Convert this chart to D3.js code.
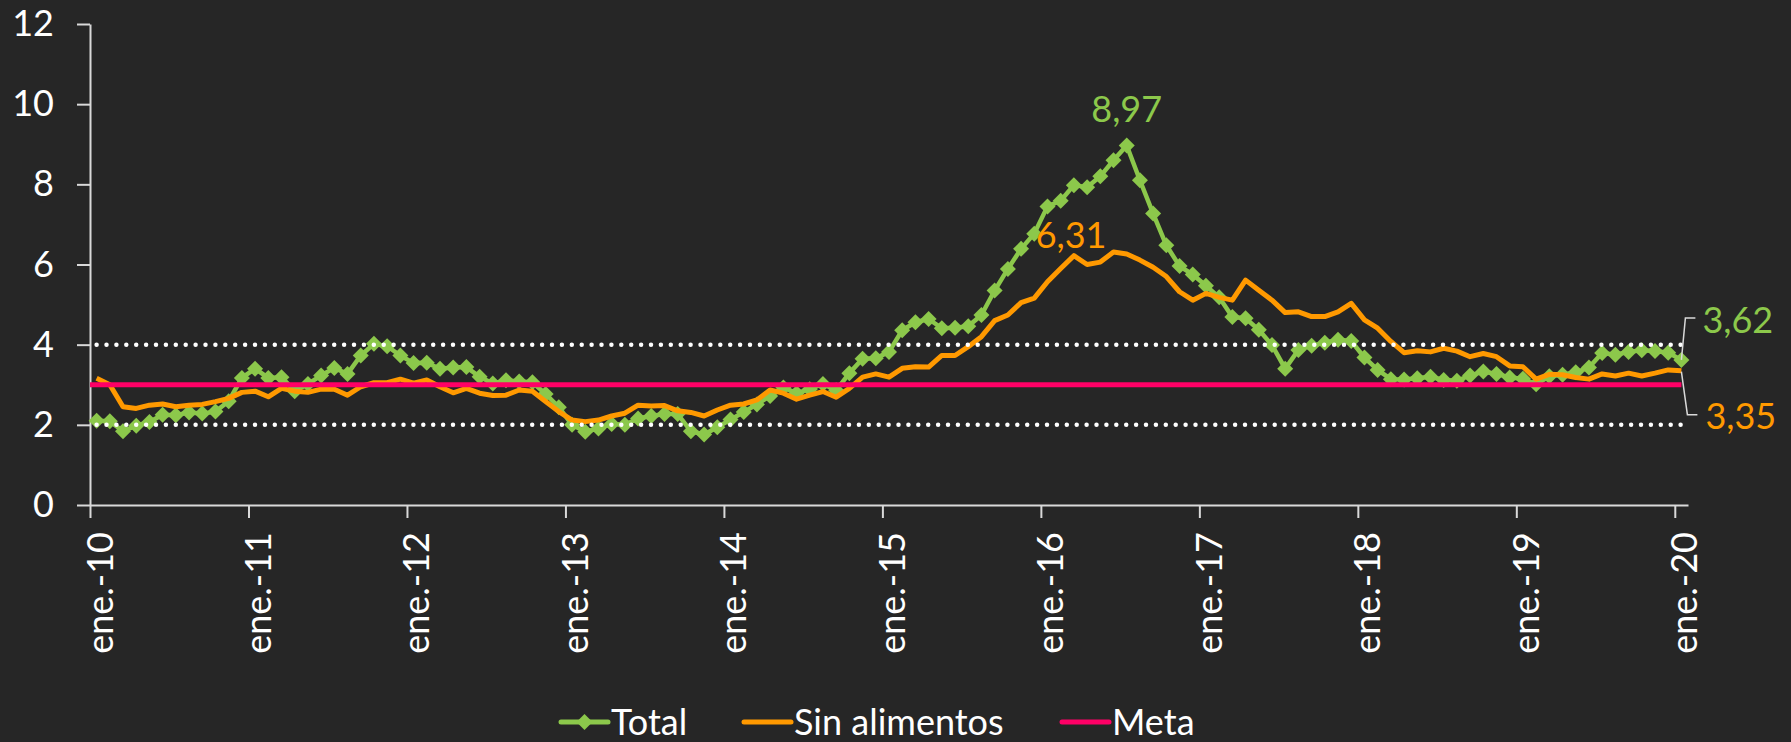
<!DOCTYPE html>
<html><head><meta charset="utf-8">
<script src="https://cdn.jsdelivr.net/npm/d3@7"></script>
<style>
html,body{margin:0;padding:0;background:#262626;}
svg{display:block;}
text{font-family:Lato,"Open Sans",sans-serif;}
</style></head><body>
<svg id="chart" width="1791" height="742"></svg>
<script>
// ---------- DATA ----------
const monthNames = ["ene.","feb.","mar.","abr.","may.","jun.","jul.","ago.","sep.","oct.","nov.","dic."];
const years = ["10","11","12","13","14","15","16","17","18","19","20"];
const tickLabels = ["ene.-10","ene.-11","ene.-12","ene.-13","ene.-14","ene.-15","ene.-16","ene.-17","ene.-18","ene.-19","ene.-20"];
const yTicks = [0,2,4,6,8,10,12];

const totalValues = [
  2.10,2.09,1.84,1.98,2.07,2.25,2.24,2.31,2.28,2.33,2.59,3.17,
  3.40,3.17,3.19,2.84,3.02,3.23,3.42,3.27,3.73,4.02,3.96,3.73,
  3.54,3.55,3.40,3.43,3.44,3.20,3.03,3.11,3.08,3.06,2.77,2.44,
  2.00,1.83,1.91,2.02,2.00,2.16,2.22,2.27,2.27,1.84,1.76,1.94,
  2.13,2.32,2.51,2.72,2.93,2.79,2.89,3.02,2.86,3.29,3.65,3.66,
  3.82,4.36,4.56,4.64,4.41,4.42,4.46,4.74,5.35,5.89,6.39,6.77,
  7.45,7.59,7.98,7.93,8.20,8.60,8.97,8.10,7.27,6.48,5.96,5.75,
  5.47,5.18,4.69,4.66,4.37,3.99,3.40,3.87,3.97,4.05,4.12,4.09,
  3.68,3.37,3.14,3.13,3.16,3.20,3.12,3.10,3.23,3.33,3.27,3.18,
  3.15,3.01,3.21,3.25,3.31,3.43,3.79,3.75,3.82,3.86,3.84,3.80,
  3.62
];
const sinAlimentosValues = [
  3.16,3.00,2.45,2.41,2.49,2.52,2.45,2.49,2.51,2.58,2.66,2.81,
  2.84,2.70,2.91,2.84,2.81,2.89,2.89,2.74,2.95,3.05,3.05,3.14,
  3.04,3.12,2.95,2.80,2.91,2.79,2.73,2.74,2.87,2.84,2.58,2.33,
  2.12,2.08,2.12,2.22,2.29,2.49,2.47,2.48,2.35,2.31,2.22,2.37,
  2.49,2.52,2.62,2.87,2.79,2.64,2.74,2.83,2.69,2.91,3.19,3.27,
  3.19,3.41,3.45,3.44,3.73,3.73,3.95,4.20,4.60,4.74,5.05,5.16,
  5.57,5.90,6.22,6.00,6.06,6.31,6.26,6.11,5.93,5.70,5.32,5.11,
  5.28,5.18,5.11,5.61,5.36,5.11,4.80,4.82,4.70,4.70,4.82,5.03,
  4.62,4.41,4.08,3.80,3.85,3.82,3.91,3.84,3.70,3.78,3.70,3.47,
  3.45,3.14,3.26,3.25,3.18,3.14,3.27,3.22,3.29,3.22,3.29,3.37,
  3.35
];
const metaValue = 3;
const rangeUpper = 4;
const rangeLower = 2;
const seriesNames = ["Total","Sin alimentos","Meta"];

// categories: monthly, ene.-10 ... ene.-20
const categories = [];
years.forEach(yy => monthNames.forEach(m => categories.push(m + "-" + yy)));
categories.length = totalValues.length;

// ---------- STYLE ----------
const GREEN = "#8CC84B", ORANGE = "#FF9900", PINK = "#FF0066", AXIS = "#D9D9D9";
const FONT = 36;

const svg = d3.select("#chart");
svg.append("rect").attr("width",1791).attr("height",742).attr("fill","#262626");

const x = d3.scaleLinear().domain([0, categories.length]).range([90, 1688]);
const cx = i => x(i + 0.5);
const y = d3.scaleLinear().domain([0, 12]).range([505, 24]);

// Y axis
const gy = svg.append("g").attr("transform","translate(90,0)")
  .call(d3.axisLeft(y).tickValues(yTicks).tickSize(13).tickSizeOuter(0).tickPadding(23));
gy.select(".domain").attr("stroke", AXIS).attr("stroke-width", 2);
gy.selectAll(".tick line").attr("stroke", AXIS).attr("stroke-width", 2);
gy.selectAll(".tick text").attr("fill","#fff").attr("font-size",FONT).attr("font-family","Lato");

// X axis
const janIdx = tickLabels.map((_, k) => k * 12);
const gx = svg.append("g").attr("transform","translate(0,505)")
  .call(d3.axisBottom(x).tickValues(janIdx).tickFormat((d, k) => tickLabels[k]).tickSize(13).tickSizeOuter(0));
gx.select(".domain").attr("stroke", AXIS).attr("stroke-width", 2);
gx.selectAll(".tick line").attr("stroke", AXIS).attr("stroke-width", 2);
gx.selectAll(".tick text")
  .attr("fill","#fff").attr("font-size",FONT).attr("font-family","Lato")
  .attr("x",0).attr("y",0).attr("dy",0)
  .attr("text-anchor","end")
  .attr("transform","translate(22,27) rotate(-90)");

const line = d3.line().x((d, i) => cx(i)).y(d => y(d));

// Total
svg.append("path").datum(totalValues).attr("d", line)
  .attr("fill","none").attr("stroke",GREEN).attr("stroke-width",4.5).attr("stroke-linejoin","round");
const diamond = "M0,-8L8,0L0,8L-8,0Z";
svg.append("g").selectAll("path").data(totalValues).join("path")
  .attr("d", diamond).attr("fill", GREEN)
  .attr("transform", (d, i) => `translate(${cx(i)},${y(d)})`);

// Sin alimentos
svg.append("path").datum(sinAlimentosValues).attr("d", line)
  .attr("fill","none").attr("stroke",ORANGE).attr("stroke-width",5).attr("stroke-linejoin","round");

// Meta
const n = categories.length;
svg.append("line").attr("x1", x(0)).attr("x2", cx(n - 1))
  .attr("y1", y(metaValue)).attr("y2", y(metaValue))
  .attr("stroke", PINK).attr("stroke-width", 5);

// Range dotted lines
[rangeUpper, rangeLower].forEach(v => {
  svg.append("line").attr("x1", cx(0)).attr("x2", cx(n - 1))
    .attr("y1", y(v)).attr("y2", y(v))
    .attr("stroke", "#fff").attr("stroke-width", 4.5)
    .attr("stroke-linecap","round").attr("stroke-dasharray","0,9.9");
});

// Annotations
const peakT = totalValues.indexOf(d3.max(totalValues));
svg.append("text").attr("x", cx(peakT)).attr("y", y(totalValues[peakT]) - 23)
  .attr("text-anchor","middle").attr("fill",GREEN).attr("font-size",FONT)
  .text(d3.format(".2f")(totalValues[peakT]).replace(".", ","));

const peakS = sinAlimentosValues.indexOf(d3.max(sinAlimentosValues));
svg.append("text").attr("x", cx(peakS) - 7).attr("y", y(sinAlimentosValues[peakS]) - 4)
  .attr("text-anchor","end").attr("fill",ORANGE).attr("font-size",FONT)
  .text(d3.format(".2f")(sinAlimentosValues[peakS]).replace(".", ","));

const lastT = totalValues[n - 1], lastS = sinAlimentosValues[n - 1];
const lx = cx(n - 1);
svg.append("path")
  .attr("d", `M${lx},${y(lastT)}L${lx + 4},${y(lastT) - 42}L${lx + 14},${y(lastT) - 42}`)
  .attr("fill","none").attr("stroke",AXIS).attr("stroke-width",1.5);
svg.append("text").attr("x", lx + 21).attr("y", y(lastT) - 27)
  .attr("fill",GREEN).attr("font-size",FONT)
  .text(d3.format(".2f")(lastT).replace(".", ","));
svg.append("path")
  .attr("d", `M${lx},${y(lastS) + 1}L${lx + 6},${y(lastS) + 44}L${lx + 16},${y(lastS) + 44}`)
  .attr("fill","none").attr("stroke",AXIS).attr("stroke-width",1.5);
svg.append("text").attr("x", lx + 24).attr("y", y(lastS) + 58)
  .attr("fill",ORANGE).attr("font-size",FONT)
  .text(d3.format(".2f")(lastS).replace(".", ","));

// Legend
const legendStarts = [561, 744, 1062];
const legendColors = [GREEN, ORANGE, PINK];
const lg = svg.append("g");
seriesNames.forEach((name, k) => {
  const x0 = legendStarts[k];
  lg.append("line").attr("x1", x0).attr("x2", x0 + 47).attr("y1", 722).attr("y2", 722)
    .attr("stroke", legendColors[k]).attr("stroke-width", 5).attr("stroke-linecap","round");
  if (k === 0) lg.append("path").attr("d", diamond).attr("fill", GREEN)
    .attr("transform", `translate(${x0 + 23.5},722)`);
  lg.append("text").attr("x", x0 + 50).attr("y", 735).attr("fill","#fff")
    .attr("font-size", FONT).text(name);
});
</script>
</body></html>
